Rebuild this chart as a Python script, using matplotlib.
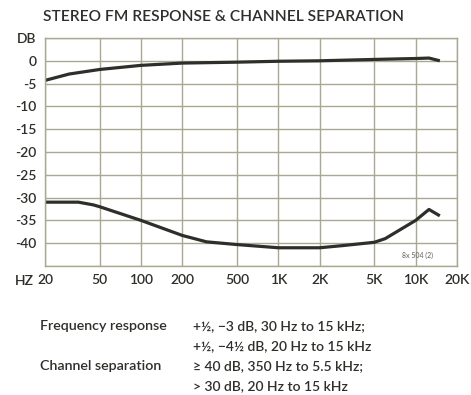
import matplotlib
matplotlib.use("Agg")
import matplotlib.pyplot as plt

plt.rcParams["font.family"] = ["Lato", "DejaVu Sans"]
plt.rcParams["font.weight"] = "semibold"

INK = "#2e2e2a"
GRID = "#a9a891"

# frequency response (top curve)
resp_hz = [20, 30, 50, 100, 200, 500, 1000, 2000, 5000, 10000, 12500, 15000]
resp_db = [-4.3, -2.9, -1.9, -1.0, -0.5, -0.3, -0.1, 0.0, 0.3, 0.5, 0.6, 0.0]

# channel separation (bottom curve)
sep_hz = [20, 35, 45, 50, 100, 200, 300, 500, 1000, 2000, 3000, 5000, 6000, 10000, 12500, 15000]
sep_db = [-31.0, -31.0, -31.6, -32.0, -35.0, -38.3, -39.7, -40.3, -41.0, -41.0, -40.5, -39.8, -39.0, -35.0, -32.6, -34.0]

x_ticks = [20, 50, 100, 200, 500, 1000, 2000, 5000, 10000, 20000]
x_labels = ["20", "50", "100", "200", "500", "1K", "2K", "5K", "10K", "20K"]
y_ticks = [5, 0, -5, -10, -15, -20, -25, -30, -35, -40, -45]
y_labels = ["DB", "0", "-5", "-10", "-15", "-20", "-25", "-30", "-35", "-40", ""]

spec_names = ["Frequency response", "", "Channel separation", ""]
spec_values = ["+½, \u22123 dB, 30 Hz to 15 kHz;",
               "+½, \u22124½ dB, 20 Hz to 15 kHz",
               "\u2265 40 dB, 350 Hz to 5.5 kHz;",
               "> 30 dB, 20 Hz to 15 kHz"]

fig = plt.figure(figsize=(4.71, 3.95), dpi=100)
ax = fig.add_axes([45 / 471, 1 - 266 / 395, 412 / 471, 228 / 395])
ax.set_xscale("log")
ax.set_xlim(20, 20000)
ax.set_ylim(-45, 5)

ax.plot(resp_hz, resp_db, color=INK, lw=2.3, solid_capstyle="butt")
ax.plot(sep_hz, sep_db, color=INK, lw=2.3, solid_capstyle="butt")

ax.set_xticks(x_ticks)
ax.set_xticklabels(x_labels)
ax.minorticks_off()
ax.set_yticks(y_ticks)
ax.set_yticklabels(y_labels)
ax.tick_params(length=0, labelsize=10, colors=INK, pad=6)
ax.grid(True, color=GRID, lw=1.0)
for s in ax.spines.values():
    s.set_color(GRID)
    s.set_linewidth(1.0)

fig.text(15 / 471, 1 - 281 / 395, "HZ", fontsize=10, color=INK, ha="left", va="center")
fig.text(43 / 471, 1 - 17 / 395, "STEREO FM RESPONSE & CHANNEL SEPARATION",
         fontsize=11.2, color=INK, ha="left", va="center")
ax.text((418 - 45) / 412, (266 - 255) / 228, "8x 504 (2)",
        transform=ax.transAxes, fontsize=5, color="#777770", ha="center", va="center")

for i, (name, val) in enumerate(zip(spec_names, spec_values)):
    y = 1 - (326 + i * 20) / 395
    fig.text(40 / 471, y, name, fontsize=10.3, color=INK, ha="left", va="center")
    fig.text(193 / 471, y, val, fontsize=10, color=INK, ha="left", va="center")

fig.savefig("out.png", dpi=100)
